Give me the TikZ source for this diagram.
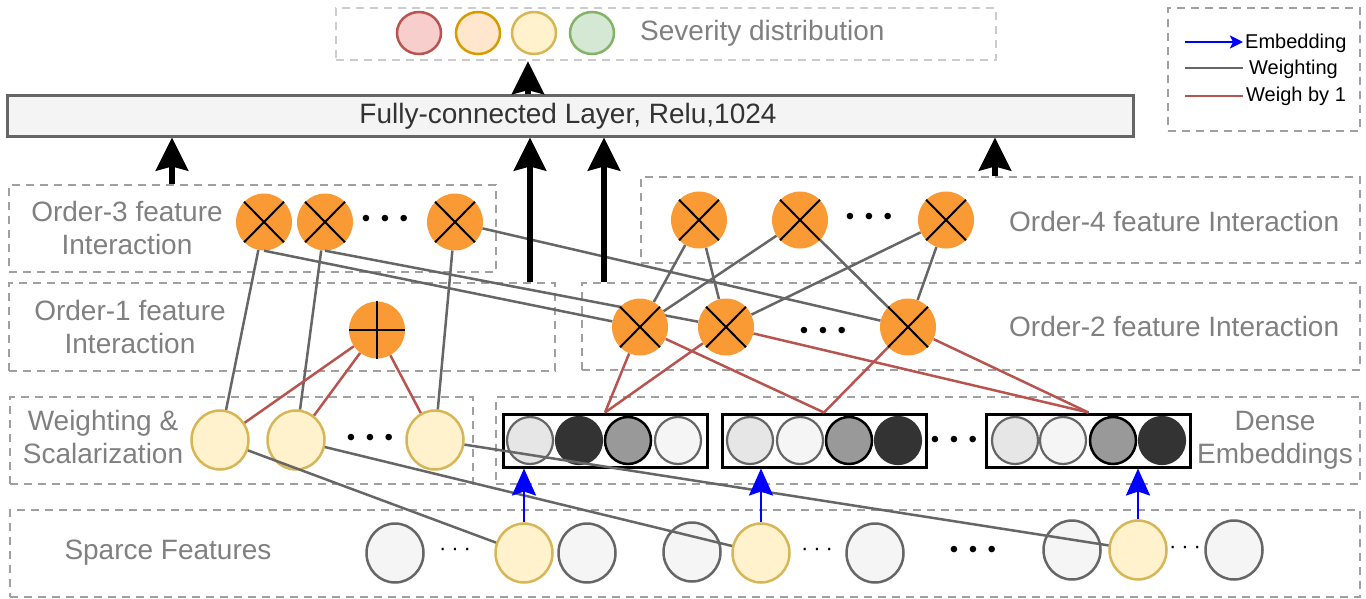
\documentclass[tikz,border=0pt]{standalone}
\usepackage{fontspec}
\setmainfont{Liberation Sans}
\usetikzlibrary{arrows.meta,shapes.geometric}

\definecolor{dashgray}{HTML}{A0A0A0}
\definecolor{dashlight}{HTML}{CCCCCC}
\definecolor{labelgray}{HTML}{808080}
\definecolor{linegray}{HTML}{666666}
\definecolor{redline}{HTML}{B85450}
\definecolor{opfill}{RGB}{249,154,52}
\definecolor{yfill}{HTML}{FFF2CC}
\definecolor{ydraw}{HTML}{D6B656}
\definecolor{gfill}{HTML}{F5F5F5}
\definecolor{fcfill}{HTML}{F4F4F4}
\definecolor{fctext}{HTML}{333333}

\pgfdeclarelayer{front}
\pgfsetlayers{main,front}

\tikzset{
  lbl/.style={text=labelgray, font=\fontsize{28}{33}\selectfont, inner sep=0pt, align=center},
  legtext/.style={text=black, font=\fontsize{20}{24}\selectfont, inner sep=0pt, anchor=west},
  layerbox/.style={draw=dashgray, line width=2.2pt, dash pattern=on 8pt off 6pt, inner sep=0pt},
  sevcircle/.style={ellipse, inner sep=0pt, line width=2.5pt, minimum width=44pt, minimum height=42pt},
  opnode/.style={ellipse, inner sep=0pt, fill=opfill, minimum width=56pt, minimum height=57pt},
  featnode/.style={ellipse, inner sep=0pt, line width=2.5pt, minimum width=57pt, minimum height=59pt},
  ynode/.style={featnode, fill=yfill, draw=ydraw},
  gnode/.style={featnode, fill=gfill, draw=linegray},
  embcircle/.style={ellipse, inner sep=0pt, minimum width=46pt, minimum height=47pt},
  embA/.style={embcircle, fill={rgb,255:red,230;green,230;blue,230}, draw=linegray, line width=2.2pt},
  embB/.style={embcircle, fill=fctext, draw=fctext, line width=2.2pt},
  embC/.style={embcircle, fill={rgb,255:red,153;green,153;blue,153}, draw=black, line width=2.5pt},
  embD/.style={embcircle, fill=gfill, draw=linegray, line width=2.2pt},
  embbox/.style={draw=black, line width=3pt, inner sep=0pt, minimum width=204pt, minimum height=53pt},
  bigdots/.style={inner sep=0pt, font=\fontsize{24}{24}\selectfont},
  smalldots/.style={inner sep=0pt, font=\fontsize{22}{22}\selectfont},
  markline/.style={draw=black, line width=2pt},
  weightline/.style={draw=linegray, line width=2.5pt},
  oneline/.style={draw=redline, line width=2.5pt},
  embarrow/.style={draw=blue, line width=2.5pt, -{Stealth[length=27pt, width=24pt, inset=4pt]}},
  bigarrow/.style={draw=black, line width=6pt, -{Stealth[length=33pt, width=32pt, inset=4pt]}},
}

\begin{document}
\begin{tikzpicture}[x=1pt, y=-1pt]
\useasboundingbox (0,0) rectangle (1366,598);

% ---------- layer frames ----------
\node[layerbox, draw=dashlight, minimum width=660pt, minimum height=52pt] (sevbox) at (666,34) {};
\node[draw=linegray, fill=fcfill, line width=3pt, inner sep=0pt, minimum width=1126pt, minimum height=41pt] (fc) at (570,115.5) {};
\node[layerbox, minimum width=192pt, minimum height=123pt] (legend) at (1264,69.5) {};
\node[layerbox, minimum width=487pt, minimum height=87pt] (o3box) at (252.5,228.5) {};
\node[layerbox, minimum width=719pt, minimum height=86pt] (o4box) at (1000.5,220) {};
\node[layerbox, minimum width=546pt, minimum height=88pt] (o1box) at (282,327) {};
\node[layerbox, minimum width=778pt, minimum height=87pt] (o2box) at (971,326.5) {};
\node[layerbox, minimum width=463pt, minimum height=87pt] (wbox) at (241.5,440.5) {};
\node[layerbox, minimum width=864pt, minimum height=87pt] (dbox) at (928,440.5) {};
\node[layerbox, minimum width=1350pt, minimum height=87pt] (sbox) at (685,553.5) {};

% ---------- labels ----------
\node[lbl, anchor=west] (sevlbl) at (640,33) {Severity distribution};
\node[lbl, text=fctext] (fclbl) at (568,116) {Fully-connected Layer, Relu,1024};
\node[lbl] (o3lbl) at (127,228) {Order-3 feature\\Interaction};
\node[lbl] (o1lbl) at (130,327) {Order-1 feature\\Interaction};
\node[lbl, anchor=west] (o4lbl) at (1009,221) {Order-4 feature Interaction};
\node[lbl, anchor=west] (o2lbl) at (1009,326) {Order-2 feature Interaction};
\node[lbl] (wlbl) at (103,437) {Weighting \&\\Scalarization};
\node[lbl] (dlbl) at (1275,440) {Dense\\Embeddings};
\node[lbl] (slbl) at (168,553) {Sparce Features};

% ---------- legend ----------
\coordinate (lgA1) at (1185,42);  \coordinate (lgA2) at (1243,42);
\coordinate (lgB1) at (1185,68);  \coordinate (lgB2) at (1243,68);
\coordinate (lgC1) at (1185,96);  \coordinate (lgC2) at (1243,96);
\draw[draw=blue, line width=2.5pt, -{Stealth[length=13pt, width=13pt, inset=3pt]}] (lgA1) -- (lgA2);
\draw[weightline] (lgB1) -- (lgB2);
\draw[oneline] (lgC1) -- (lgC2);
\node[legtext] (lgAt) at (1245,43) {Embedding};
\node[legtext] (lgBt) at (1249,69) {Weighting};
\node[legtext] (lgCt) at (1246,96) {Weigh by 1};

% ---------- severity distribution ----------
\node[sevcircle, fill={rgb,255:red,248;green,206;blue,204}, draw=redline] (sv1) at (419,33) {};
\node[sevcircle, fill={rgb,255:red,255;green,230;blue,204}, draw={rgb,255:red,215;green,155;blue,0}] (sv2) at (478,33) {};
\node[sevcircle, fill=yfill, draw=ydraw] (sv3) at (534,33) {};
\node[sevcircle, fill={rgb,255:red,213;green,232;blue,212}, draw={rgb,255:red,130;green,179;blue,102}] (sv4) at (592,33) {};

% ---------- interaction operators ----------
\node[opnode] (o3a) at (264,222) {};
\node[opnode] (o3b) at (325,222) {};
\node[opnode] (o3c) at (455,222) {};
\node[bigdots] (o3dots) at (385,221) {•\hspace{10.5pt}•\hspace{10.5pt}•};

\node[opnode] (o1) at (377,330) {};

\node[opnode] (o4a) at (699,220) {};
\node[opnode] (o4b) at (800,220) {};
\node[opnode] (o4c) at (946,220) {};
\node[bigdots] (o4dots) at (869,219) {•\hspace{10.5pt}•\hspace{10.5pt}•};

\begin{pgfonlayer}{front}
\node[opnode] (o2a) at (640,327) {};
\node[opnode] (o2b) at (726,327) {};
\node[opnode] (o2c) at (908,327) {};
\foreach \n in {o2a,o2b,o2c}
  \draw[markline] (\n.north west) -- (\n.south east) (\n.north east) -- (\n.south west);
\end{pgfonlayer}
\node[bigdots] (o2dots) at (823,333) {•\hspace{10.5pt}•\hspace{10.5pt}•};

\foreach \n in {o3a,o3b,o3c,o4a,o4b,o4c}
  \draw[markline] (\n.north west) -- (\n.south east) (\n.north east) -- (\n.south west);
\draw[markline] (o1.north) -- (o1.south) (o1.west) -- (o1.east);

% ---------- weighting & scalarization ----------
\node[ynode] (w1) at (220,440) {};
\node[ynode] (w2) at (296,440) {};
\node[ynode] (w3) at (435,440) {};
\node[bigdots] (wdots) at (370,440) {•\hspace{10.5pt}•\hspace{10.5pt}•};

% ---------- dense embeddings ----------
\node[embbox] (e1) at (605,440.5) {};
\node[embbox] (e2) at (824,440.5) {};
\node[embbox] (e3) at (1088.5,440.5) {};
\foreach \x/\s [count=\i] in {530/embA,579/embB,628/embC,678/embD}
  \node[\s] (e1c\i) at (\x,440.5) {};
\foreach \x/\s [count=\i] in {750/embA,800/embD,849/embC,898/embB}
  \node[\s] (e2c\i) at (\x,440.5) {};
\foreach \x/\s [count=\i] in {1015/embA,1063/embD,1113/embC,1162/embB}
  \node[\s] (e3c\i) at (\x,440.5) {};
\node[bigdots] (edots) at (954,442) {•\hspace{10.5pt}•\hspace{10.5pt}•};

% ---------- sparse features ----------
\node[gnode] (s1) at (395,553) {};
\node[smalldots] (sd1) at (455,552) {·\hspace{5pt}·\hspace{5pt}·};
\node[ynode] (s2) at (524,553) {};
\node[gnode] (s3) at (587,553) {};
\node[gnode] (s4) at (692,552) {};
\node[ynode] (s5) at (761,553) {};
\node[smalldots] (sd2) at (817,552) {·\hspace{5pt}·\hspace{5pt}·};
\node[gnode] (s6) at (875,553) {};
\node[bigdots] (sd3) at (973,552) {•\hspace{10.5pt}•\hspace{10.5pt}•};
\node[gnode] (s7) at (1072,550) {};
\node[ynode] (s8) at (1138,550) {};
\node[smalldots] (sd4) at (1185,550) {·\hspace{5pt}·\hspace{5pt}·};
\node[gnode] (s9) at (1234,550) {};

% ---------- weighted connections ----------
\draw[weightline] (o3a.south) -- (o2a);
\draw[weightline] (o3b.south) -- (o2b);
\draw[weightline] (o3c) -- (o2c);
\draw[weightline] (o3a) -- (w1);
\draw[weightline] (o3b) -- (w2);
\draw[weightline] (o3c) -- (w3);
\draw[weightline] (w1) -- (s2);
\draw[weightline] (w2) -- (s5);
\draw[weightline] (w3) -- (s8);
\draw[weightline] (o4a) -- (o2a);
\draw[weightline] (o4a) -- (o2b);
\draw[weightline] (o4b) -- (o2a);
\draw[weightline] (o4b) -- (o2c);
\draw[weightline] (o4c) -- (o2b);
\draw[weightline] (o4c) -- (o2c);

% ---------- unit-weight connections ----------
\draw[oneline] (o1) -- (w1);
\draw[oneline] (o1) -- (w2);
\draw[oneline] (o1) -- (w3);
\draw[oneline] (o2a) -- (e1.north);
\draw[oneline] (o2b) -- (e1.north);
\draw[oneline] (o2a) -- (e2.north);
\draw[oneline] (o2c) -- (e2.north);
\draw[oneline] (o2b) -- (e3.north);
\draw[oneline] (o2c) -- (e3.north);

% ---------- embedding lookups ----------
\draw[embarrow] (s2.north) -- (s2.north |- e1.south);
\draw[embarrow] (s5.north) -- (s5.north |- e2.south);
\draw[embarrow] (s8.north) -- (s8.north |- e3.south);

% ---------- outputs into the dense layer ----------
\coordinate (xa) at (172,0);
\coordinate (xb) at (530,0);
\coordinate (xc) at (604,0);
\coordinate (xd) at (995,0);
\coordinate (xe) at (528,0);
\draw[bigarrow] (xa |- o3box.north) -- (xa |- fc.south);
\draw[bigarrow] (xb |- o1box.north) -- (xb |- fc.south);
\draw[bigarrow] (xc |- o2box.north) -- (xc |- fc.south);
\draw[bigarrow] (xd |- o4box.north) -- (xd |- fc.south);
\draw[bigarrow] (xe |- fc.north) -- (xe |- sevbox.south);
\end{tikzpicture}
\end{document}
